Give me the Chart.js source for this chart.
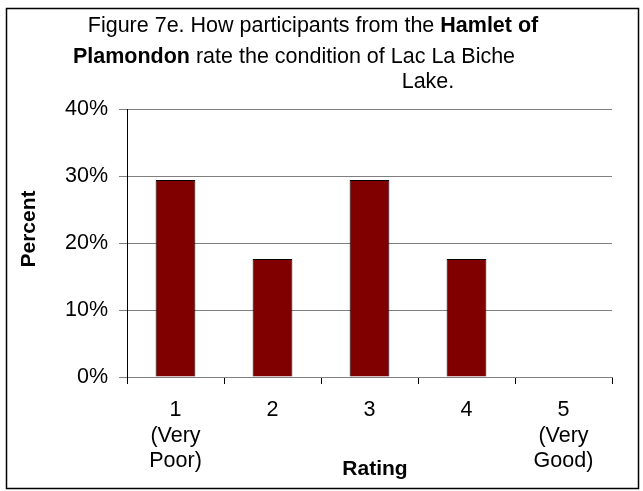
<!DOCTYPE html>
<html><head><meta charset="utf-8">
<script src="https://cdn.jsdelivr.net/npm/chart.js@4"></script>
<style>html,body{margin:0;padding:0;background:#fff}#wrap{width:643px;height:491px;position:relative}</style>
</head><body><div id="wrap"><canvas id="c" width="643" height="491"></canvas></div>
<script>
const categories = [["1","(Very","Poor)"],["2"],["3"],["4"],["5","(Very","Good)"]];
const percents = [29.4, 17.6, 29.4, 17.6, 0];
const yTicks = [0, 10, 20, 30, 40];
const titleLines = [
  [["Figure 7e. How participants from the ", false], ["Hamlet of", true]],
  [["Plamondon", true], [" rate the condition of Lac La Biche", false]],
  [["Lake.", false]]
];
const yTitle = "Percent";
const xTitle = "Rating";
const FONT = '"Liberation Sans", Arial, sans-serif';

const deco = {
  id: 'deco',
  beforeDraw(chart) {
    const ctx = chart.ctx;
    ctx.save();
    ctx.fillStyle = '#fff';
    ctx.fillRect(0, 0, chart.width, chart.height);
    ctx.restore();
  },
  afterDraw(chart) {
    const ctx = chart.ctx;
    ctx.save();
    ctx.strokeStyle = '#000';
    ctx.lineWidth = 1.5;
    ctx.strokeRect(6.5, 8.5, 632, 480);
    ctx.fillStyle = '#000';
    ctx.textBaseline = 'middle';
    const centers = [313, 294, 428];
    const ys = [26, 57, 82];
    titleLines.forEach((segs, i) => {
      let w = 0;
      segs.forEach(([t, b]) => { ctx.font = (b ? 'bold ' : '') + '21.5px ' + FONT; w += ctx.measureText(t).width; });
      let x = centers[i] - w / 2;
      ctx.textAlign = 'left';
      segs.forEach(([t, b]) => { ctx.font = (b ? 'bold ' : '') + '21.5px ' + FONT; ctx.fillText(t, x, ys[i]); x += ctx.measureText(t).width; });
    });
    ctx.font = 'bold 21px ' + FONT;
    ctx.textAlign = 'center';
    ctx.fillText(xTitle, 375, 469);
    ctx.translate(29, 229);
    ctx.rotate(-Math.PI / 2);
    ctx.fillText(yTitle, 0, 0);
    ctx.restore();
  }
};

new Chart(document.getElementById('c'), {
  type: 'bar',
  data: {
    labels: categories,
    datasets: [{
      data: percents,
      backgroundColor: '#800000',
      borderColor: '#000',
      borderWidth: 1,
      barPercentage: 0.41,
      categoryPercentage: 1.0
    }]
  },
  options: {
    responsive: false,
    animation: false,
    devicePixelRatio: 1,
    layout: { padding: { left: 0, top: 109, right: 31, bottom: 0 } },
    plugins: { legend: { display: false }, title: { display: false }, tooltip: { enabled: false } },
    scales: {
      x: {
        offset: true,
        afterFit(s) { s.height = 114; },
        grid: { offset: true, drawOnChartArea: false, drawTicks: true, tickLength: 7, color: '#000', lineWidth: 1 },
        border: { color: '#808080', width: 1 },
        ticks: { color: '#000', font: { family: FONT, size: 21.5 }, padding: 13, maxRotation: 0, autoSkip: false, lineHeight: 1.17 }
      },
      y: {
        min: 0, max: 40,
        afterFit(s) { s.width = 127; },
        afterBuildTicks(s) { s.ticks = yTicks.map(v => ({ value: v })); },
        grid: { color: '#808080', lineWidth: 1, tickLength: 8, drawTicks: true },
        border: { color: '#000', width: 1 },
        ticks: { color: '#000', font: { family: FONT, size: 21.5 }, padding: 11, callback: v => v + '%' }
      }
    }
  },
  plugins: [deco]
});
</script></body></html>
